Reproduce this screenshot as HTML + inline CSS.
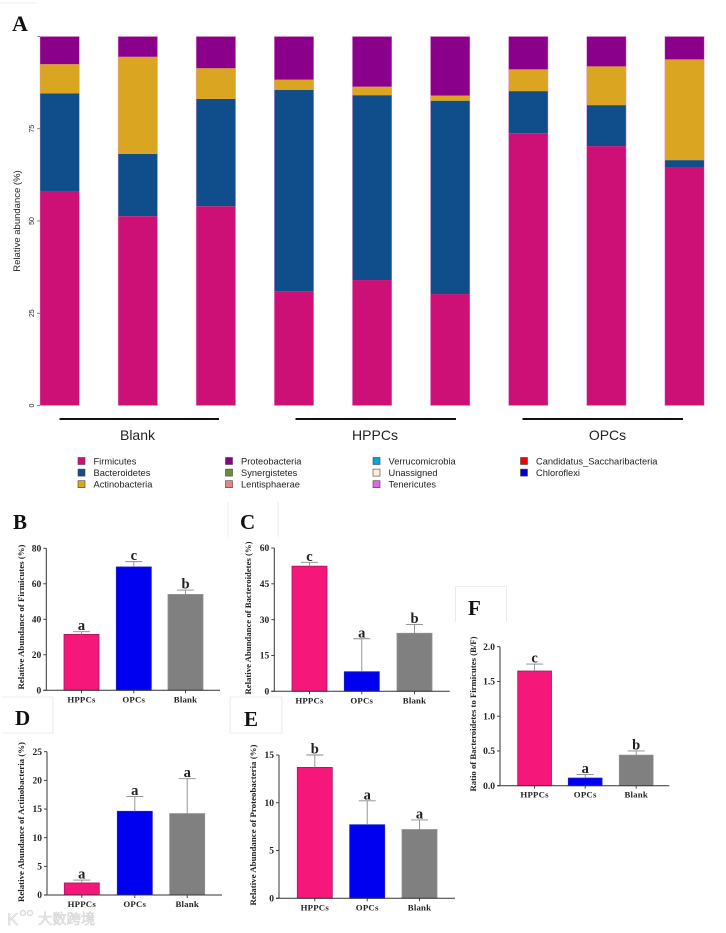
<!DOCTYPE html>
<html lang="en">
<head>
<meta charset="utf-8">
<title>Relative abundance of gut microbiota</title>
<style>
html,body{margin:0;padding:0;background:#fff;width:726px;height:933px;overflow:hidden}
svg{display:block;filter:blur(0.35px)}
.serif{font-family:"Liberation Serif",serif;font-weight:bold;fill:#222}
.sans{font-family:"Liberation Sans",sans-serif;fill:#222}
.wm{font-family:"Liberation Sans","Noto Sans CJK SC",sans-serif;fill:#efefef;stroke:#cfcfcf;stroke-width:.5}
</style>
</head>
<body>
<svg id="fig" xmlns="http://www.w3.org/2000/svg" width="726" height="933" viewBox="0 0 726 933">
  <rect width="726" height="933" fill="#fff"/>
  <g stroke="#e6e6e6" stroke-width="0.8" fill="none">
    <path d="M0 3H37"/>
    <path d="M228 502V537M278 502V537"/>
    <path d="M2 697H53V733H2"/>
    <path d="M230 733V697H282V733H230"/>
    <path d="M455.500 622V586.500H506.500V622"/>
  </g>
  <text class="serif" x="12" y="31" font-size="22" style="fill:#111">A</text>
  <text class="serif" x="13" y="529" font-size="21" style="fill:#111">B</text>
  <text class="serif" x="240" y="529" font-size="21" style="fill:#111">C</text>
  <text class="serif" x="15" y="725" font-size="21" style="fill:#111">D</text>
  <text class="serif" x="244" y="726" font-size="21" style="fill:#111">E</text>
  <text class="serif" x="468" y="615" font-size="21" style="fill:#111">F</text>
  <g id="stack"></g>
  <g id="legend"></g>
  <g id="panels"></g>
  <g>
    <text class="wm" x="7" y="925" font-size="17">K</text>
    <circle cx="23" cy="913" r="2.500" fill="none" stroke="#ddd" stroke-width="1.500"/>
    <circle cx="30" cy="913" r="2.500" fill="none" stroke="#ddd" stroke-width="1.500"/>
    <text class="wm" x="38" y="924" font-size="14.300">大数跨境</text>
  </g>
</svg>
<script>
// Panel A data (percent)
const firmicutes     = [57.9, 51.3, 54.0, 31.0, 34.0, 30.2, 73.8, 70.3, 64.4];
const bacteroidetes  = [26.7, 16.9, 29.1, 54.5, 50.1, 52.4, 11.4, 11.1, 2.1];
const actinobacteria = [7.9, 26.3, 8.3, 2.8, 2.3, 1.4, 5.9, 10.5, 27.3];
const proteobacteria = [7.5, 5.5, 8.6, 11.7, 13.6, 16.0, 8.9, 8.1, 6.2];
const stackTicks = [0, 25, 50, 75, 100];
const stackTickLabels = ['0', '25', '50', '75', ''];
const legendNames = ['Firmicutes', 'Bacteroidetes', 'Actinobacteria', 'Proteobacteria', 'Synergistetes', 'Lentisphaerae', 'Verrucomicrobia', 'Unassigned', 'Tenericutes', 'Candidatus_Saccharibacteria', 'Chloroflexi'];

// Panels B-F data
const categories = ['HPPCs', 'OPCs', 'Blank'];
const firmicutesMeans = [31.5, 69.5, 54];
const firmicutesErrTops = [33, 72.5, 56.5];
const firmicutesLetters = ['a', 'c', 'b'];
const firmicutesTicks = [0, 20, 40, 60, 80];
const bacteroidetesMeans = [52.4, 8.2, 24.3];
const bacteroidetesErrTops = [54, 22, 28];
const bacteroidetesLetters = ['c', 'a', 'b'];
const bacteroidetesTicks = [0, 15, 30, 45, 60];
const actinoMeans = [2.1, 14.6, 14.2];
const actinoErrTops = [2.6, 17.2, 20.3];
const actinoLetters = ['a', 'a', 'a'];
const actinoTicks = [0, 5, 10, 15, 20, 25];
const proteoMeans = [13.7, 7.7, 7.2];
const proteoErrTops = [15, 10.2, 8.2];
const proteoLetters = ['b', 'a', 'a'];
const proteoTicks = [0, 5, 10, 15];
const ratioMeans = [1.65, 0.11, 0.44];
const ratioErrTops = [1.75, 0.16, 0.5];
const ratioLetters = ['c', 'a', 'b'];
const ratioTicks = ['0.0', '0.5', '1.0', '1.5', '2.0'];

const NS = 'http://www.w3.org/2000/svg';
function mk(parent, tag, props, text) {
  const el = document.createElementNS(NS, tag);
  for (const k in props) el.setAttribute(k, props[k]);
  if (text !== undefined) el.textContent = text;
  parent.appendChild(el);
  return el;
}

// ---------- Panel A ----------
const stackG = document.getElementById('stack');
const stackY = v => 405.5 - v * 3.69;
const stackX = i => 40 + i * 78.1;
const stackW = 39.4;
const stackColors = ['#CD1076', '#104E8B', '#DAA520', '#8B008B'];
const stackNames = ['firmicutes', 'bacteroidetes', 'actinobacteria', 'proteobacteria'];
const stackSeries = [firmicutes, bacteroidetes, actinobacteria, proteobacteria];

firmicutes.forEach((_, i) => {
  let base = 0;
  stackSeries.forEach((series, s) => {
    const v = series[i];
    const seg = mk(stackG, 'rect', {x: stackX(i), y: stackY(base + v), width: stackW, height: stackY(base) - stackY(base + v), fill: stackColors[s]});
    
    
    base += v;
  });
  const outline = mk(stackG, 'rect', {x: stackX(i), y: stackY(base), width: stackW, height: stackY(0) - stackY(base), fill: 'none', stroke: '#E59AD6', 'stroke-width': 0.6, 'stroke-opacity': 0.75});
  
  
});

stackTicks.forEach((t, i) => {
  const tick = mk(stackG, 'line', {x1: 37, x2: 40, y1: stackY(t), y2: stackY(t), stroke: '#555', 'stroke-width': 0.7});
  
  
  if (stackTickLabels[i]) {
    const lab = mk(stackG, 'text', {class: 'sans', 'font-size': 7, 'text-anchor': 'middle', transform: 'translate(34 ' + stackY(t) + ') rotate(-90)'}, stackTickLabels[i]);
    
    
  }
});
const stackTitle = mk(stackG, 'text', {class: 'sans', 'font-size': 9.5, 'text-anchor': 'middle', transform: 'translate(20 221) rotate(-90)'}, 'Relative abundance (%)');



function drawGroup(name, x1, x2, labelX) {
  const line = mk(stackG, 'line', {x1: x1, x2: x2, y1: 419, y2: 419, stroke: '#111', 'stroke-width': 2});
  
  
  const lab = mk(stackG, 'text', {class: 'sans', x: labelX, y: 440, 'font-size': 14, 'text-anchor': 'middle'}, name);
  
  
}
drawGroup('Blank', 59.5, 219, 137.5);
drawGroup('HPPCs', 295.5, 456, 375);
drawGroup('OPCs', 522.5, 683, 607.5);

// ---------- Legend ----------
const legendG = document.getElementById('legend');
const legendColors = ['#CD1076', '#104E8B', '#DAA520', '#8B008B', '#6E8B3D', '#F08080', '#00A5DD', '#FFEFD5', '#E066E6', '#EE0000', '#0000CD'];
legendNames.forEach((name, i) => {
  const col = Math.floor(i / 3);
  const row = i % 3;
  const x = 78 + col * 147.5;
  const y = 461 + row * 11.6;
  const sw = mk(legendG, 'rect', {x: x, y: y - 3.5, width: 7, height: 7, fill: legendColors[i], stroke: '#444', 'stroke-width': 0.6});
  
  
  const lab = mk(legendG, 'text', {class: 'sans', x: x + 15.5, y: y + 3.3, 'font-size': 9.3}, name);
  
  
});

// ---------- Panels B-F ----------
const panelsG = document.getElementById('panels');
const barFills = ['#F5187A', '#0000F0', '#808080'];
const barEdges = ['#A3155C', '#2020C0', '#8E8E8E'];

function drawPanel(key, means, errTops, letters, ticks, title, geo) {
  const g = mk(panelsG, 'g', {});
  
  
  const tickVals = ticks.map(Number);
  const maxV = tickVals[tickVals.length - 1];
  const y = v => geo.y0 - (v / maxV) * (geo.y0 - geo.yTop);

  means.forEach((m, i) => {
    const left = geo.barX[i];
    const cx = left + geo.barW / 2;
    const bar = mk(g, 'rect', {x: left, y: y(m), width: geo.barW, height: geo.y0 - y(m), fill: barFills[i], stroke: barEdges[i], 'stroke-width': 0.8});
    
    
    const stem = mk(g, 'line', {x1: cx, x2: cx, y1: y(m), y2: y(errTops[i]), stroke: '#8a8a8a', 'stroke-width': 0.9});
    
    
    const cap = mk(g, 'line', {x1: cx - 8.5, x2: cx + 8.5, y1: y(errTops[i]), y2: y(errTops[i]), stroke: '#8a8a8a', 'stroke-width': 0.9});
    
    
    const sig = mk(g, 'text', {class: 'serif', x: cx, y: y(errTops[i]) - 1.5, 'font-size': 14.5, 'text-anchor': 'middle'}, letters[i]);
    
    
    const tick = mk(g, 'line', {x1: cx, x2: cx, y1: geo.y0, y2: geo.y0 + 3, stroke: '#333', 'stroke-width': 0.9});
    
    
    const cat = mk(g, 'text', {class: 'serif', x: cx, y: geo.y0 + 12, 'font-size': 8.8, 'text-anchor': 'middle', 'letter-spacing': 0.2}, categories[i]);
    
    
  });

  const xAxis = mk(g, 'line', {x1: geo.x0 - 3, x2: geo.xEnd, y1: geo.y0, y2: geo.y0, stroke: '#333', 'stroke-width': 1});
  
  
  const yAxis = mk(g, 'line', {x1: geo.x0, x2: geo.x0, y1: geo.yTop, y2: geo.y0, stroke: '#333', 'stroke-width': 1});
  
  

  ticks.forEach((t, i) => {
    const tk = mk(g, 'line', {x1: geo.x0 - 3, x2: geo.x0, y1: y(tickVals[i]), y2: y(tickVals[i]), stroke: '#333', 'stroke-width': 0.9});
    
    
    const lb = mk(g, 'text', {class: 'serif', x: geo.x0 - 5, y: y(tickVals[i]) + 3.2, 'font-size': 9.5, 'text-anchor': 'end'}, String(t));
    
    
  });

  const ttl = mk(g, 'text', {class: 'serif', 'font-size': 8.8, 'text-anchor': 'middle', textLength: geo.titleLen, lengthAdjust: 'spacingAndGlyphs', transform: 'translate(' + geo.titleX + ' ' + geo.titleY + ') rotate(-90)'}, title);
  
  
}

drawPanel('firmicutes', firmicutesMeans, firmicutesErrTops, firmicutesLetters, firmicutesTicks, 'Relative Abundance of Firmicutes (%)',
  {x0: 46.3, xEnd: 220, y0: 690.3, yTop: 548.3, barX: [64, 116.3, 168], barW: 35, titleX: 24, titleY: 617, titleLen: 145});
drawPanel('bacteroidetes', bacteroidetesMeans, bacteroidetesErrTops, bacteroidetesLetters, bacteroidetesTicks, 'Relative Abundance of Bacteroidetes (%)',
  {x0: 274.3, xEnd: 449.7, y0: 691.3, yTop: 548, barX: [292, 344.3, 397], barW: 35, titleX: 251, titleY: 618, titleLen: 153});
drawPanel('actinobacteria', actinoMeans, actinoErrTops, actinoLetters, actinoTicks, 'Relative Abundance of Actinobacteria (%)',
  {x0: 47, xEnd: 222, y0: 895, yTop: 751.7, barX: [64.3, 117.3, 169.7], barW: 35, titleX: 24, titleY: 822, titleLen: 160});
drawPanel('proteobacteria', proteoMeans, proteoErrTops, proteoLetters, proteoTicks, 'Relative Abundance of Proteobacteria (%)',
  {x0: 279, xEnd: 455, y0: 898.3, yTop: 755, barX: [297.3, 349.7, 402], barW: 35, titleX: 256, titleY: 825, titleLen: 161});
drawPanel('bf-ratio', ratioMeans, ratioErrTops, ratioLetters, ratioTicks, 'Ratio of  Bacteroidetes to Firmicutes (B/F)',
  {x0: 500, xEnd: 669.3, y0: 785.7, yTop: 646.7, barX: [517.7, 568.3, 619.3], barW: 33.8, titleX: 476, titleY: 714, titleLen: 155});
</script>
</body>
</html>
